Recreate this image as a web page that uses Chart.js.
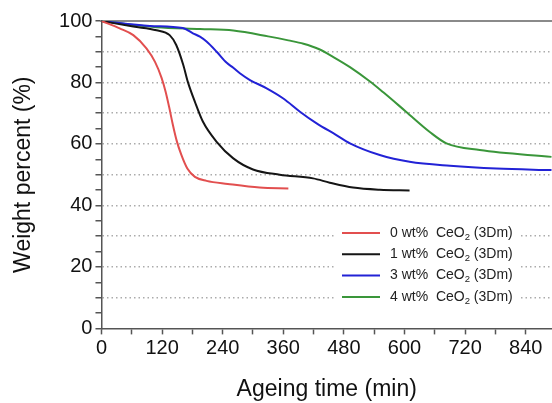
<!DOCTYPE html>
<html>
<head>
<meta charset="utf-8">
<script src="https://cdn.jsdelivr.net/npm/chart.js@4.4.1/dist/chart.umd.min.js"></script>
<style>
  html, body { margin: 0; padding: 0; background: #fff; overflow: hidden; }
  #wrap { width: 552px; height: 403px; }
</style>
</head>
<body>
<div id="wrap"><canvas id="tgaChart"></canvas></div>
<script>
// ageing time (min) and weight percent (%) for each CeO2 loading
const seriesLabels = ["0 wt%", "1 wt%", "3 wt%", "4 wt%"];
const seriesColors = ["#e24f4f", "#151515", "#2222d6", "#3a963a"];

const time0 = [0, 36, 63, 89, 106, 119, 127, 134, 141, 149, 158, 170, 185, 208, 250, 313, 370];
const weight0 = [100, 97.6, 95.4, 91.1, 86.7, 81.5, 77, 72, 66.5, 61, 56.5, 52, 49.3, 48, 47, 45.8, 45.5];

const time1 = [0, 63, 109, 135, 148, 162, 171, 185, 201, 228, 261, 300, 353, 419, 452, 498, 551, 610];
const weight1 = [100, 98.2, 97, 95.4, 92.2, 85.7, 80.2, 73.7, 67.2, 60.7, 55.3, 51.7, 50, 48.8, 47.4, 45.8, 45.1, 44.9];

const time3 = [0, 96, 161, 181, 195, 208, 228, 248, 261, 274, 294, 327, 360, 393, 426, 465, 492, 551, 610, 690, 782, 891];
const weight3 = [100, 98.4, 97.7, 96, 94.9, 93.3, 90, 86.4, 84.8, 83, 80.8, 78.1, 74.8, 70.5, 66.7, 62.9, 60.2, 56.4, 54.2, 52.9, 52, 51.5];

const time4 = [0, 109, 195, 261, 330, 370, 400, 430, 460, 492, 531, 558, 603, 650, 683, 749, 891];
const weight4 = [100, 98, 97.4, 96.9, 95, 93.7, 92.6, 90.9, 88.2, 85, 80.4, 76.8, 70.5, 63.9, 60.2, 58, 55.8];

const xLabelTicks = [0, 120, 240, 360, 480, 600, 720, 840];
const yLabelTicks = [0, 20, 40, 60, 80, 100];

const times = [time0, time1, time3, time4];
const weights = [weight0, weight1, weight3, weight4];

function toPoints(ts, ws) {
    return ts.map((t, i) => ({ x: t, y: ws[i] }));
}

// legend drawn inside the plot with a white box behind it
const insideLegend = {
    id: "insideLegend",
    afterDatasetsDraw(chart, args, opts) {
        const ctx = chart.ctx;
        const left = opts.left, top = opts.top, rowH = opts.rowH;
        const big = "14px 'Liberation Sans', Arial, sans-serif";
        const small = "9.5px 'Liberation Sans', Arial, sans-serif";
        ctx.save();
        ctx.fillStyle = "#fff";
        ctx.fillRect(left, top - 11, 186, rowH * 4 + 2);
        chart.data.datasets.forEach((ds, i) => {
            const y = top + i * rowH;
            ctx.strokeStyle = ds.borderColor;
            ctx.lineWidth = 2;
            ctx.beginPath();
            ctx.moveTo(left + 7, y);
            ctx.lineTo(left + 45, y);
            ctx.stroke();

            ctx.fillStyle = "#222";
            ctx.textBaseline = "middle";
            ctx.font = big;
            let x = left + 55;
            const head = ds.label + "  CeO";
            ctx.fillText(head, x, y);
            x += ctx.measureText(head).width;
            ctx.font = small;
            ctx.fillText("2", x, y + 4);
            x += ctx.measureText("2").width;
            ctx.font = big;
            ctx.fillText(" (3Dm)", x, y);
        });
        ctx.restore();
    }
};

const datasets = seriesLabels.map((label, i) => ({
    label: label,
    data: toPoints(times[i], weights[i]),
    borderColor: seriesColors[i],
    borderWidth: 2,
    pointRadius: 0,
    fill: false,
    cubicInterpolationMode: "monotone"
}));

const tickFont = { family: "'Liberation Sans', Arial, sans-serif", size: 20 };
const titleFont = { family: "'Liberation Sans', Arial, sans-serif", size: 23 };

new Chart(document.getElementById("tgaChart"), {
    type: "line",
    data: { datasets: datasets },
    plugins: [insideLegend],
    options: {
        responsive: true,
        maintainAspectRatio: false,
        animation: false,
        layout: { padding: { top: 21, left: 10, right: 0, bottom: 0 } },
        plugins: {
            legend: { display: false },
            tooltip: { enabled: false },
            insideLegend: { left: 335, top: 233, rowH: 21.3 }
        },
        scales: {
            x: {
                type: "linear",
                min: 0,
                max: 892,
                ticks: {
                    stepSize: 60,
                    includeBounds: false,
                    autoSkip: false,
                    maxRotation: 0,
                    color: "#111",
                    font: tickFont,
                    padding: 2,
                    callback: v => xLabelTicks.includes(v) ? String(v) : ""
                },
                grid: {
                    drawOnChartArea: false,
                    drawTicks: true,
                    tickLength: 6,
                    tickColor: "#555",
                    tickWidth: 1.5
                },
                border: { display: true, color: "#555", width: 1.5 },
                title: {
                    display: true,
                    text: "Ageing time (min)",
                    color: "#111",
                    font: titleFont,
                    padding: { top: 13, bottom: 0 }
                }
            },
            xTop: {
                type: "linear",
                position: "top",
                min: 0,
                max: 892,
                ticks: { display: false },
                grid: { display: false, drawTicks: false },
                border: { display: true, color: "#8a8a8a", width: 2 }
            },
            y: {
                min: 0,
                max: 100,
                ticks: {
                    stepSize: 5,
                    autoSkip: false,
                    color: "#111",
                    font: tickFont,
                    padding: 3,
                    callback: v => yLabelTicks.includes(v) ? String(v) : ""
                },
                grid: {
                    color: ctx => (ctx.tick && ctx.tick.value % 10 === 0 && ctx.tick.value > 0 && ctx.tick.value < 100) ? "#ababab" : "rgba(0,0,0,0)",
                    lineWidth: 1.5,
                    drawTicks: true,
                    tickLength: 6,
                    tickColor: "#555",
                    tickWidth: 1.5,
                    tickBorderDash: []
                },
                border: { display: true, color: "#555", width: 1.5, dash: [1.5, 3] },
                title: {
                    display: true,
                    text: "Weight percent (%)",
                    color: "#111",
                    font: titleFont,
                    padding: { top: 0, bottom: 18.5 }
                }
            }
        }
    }
});
</script>
</body>
</html>
